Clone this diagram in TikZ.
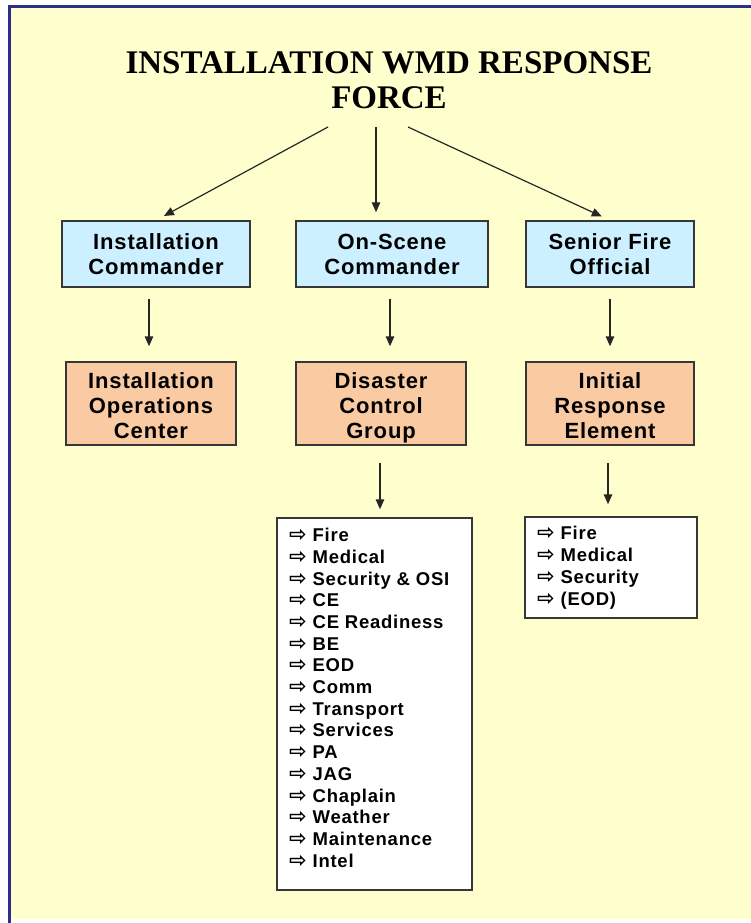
\documentclass[tikz,border=0pt]{standalone}
\usepackage{fontspec}
\usetikzlibrary{arrows.meta}
\newfontfamily\titlefont{Liberation Serif}
\newfontfamily\boxfont[LetterSpace=4]{Liberation Sans}
\newfontfamily\symfont{DejaVu Sans}
\definecolor{bgyellow}{RGB}{255,255,206}
\definecolor{frameblue}{RGB}{45,45,140}
\definecolor{boxblue}{RGB}{204,240,255}
\definecolor{boxorange}{RGB}{250,202,162}
\definecolor{boxline}{RGB}{55,55,55}
\newcommand{\itemarrow}{{\symfont\fontsize{21}{21}\selectfont ⇨}}
\newcommand{\topstrut}{\rule{0pt}{26pt}}
\newcommand{\lastline}[1]{\smash{#1}\rule[-7pt]{0pt}{0pt}}
\tikzset{
  box/.style={draw=boxline, line width=1.5pt, inner sep=0pt, align=center,
    font=\boxfont\bfseries\fontsize{22}{25}\selectfont},
  bluebox/.style={box, fill=boxblue, minimum height=66pt},
  orangebox/.style={box, fill=boxorange, minimum height=83pt},
  listbox/.style={draw=boxline, line width=1.5pt, fill=white, inner sep=0pt},
  item/.style={anchor=base west, inner sep=0pt,
    font=\boxfont\bfseries\fontsize{18.5}{21}\selectfont},
  titletext/.style={anchor=base, inner sep=0pt,
    font=\titlefont\bfseries\fontsize{33}{35}\selectfont},
  arr/.style={draw=black!85, line width=1.5pt, -{Triangle[length=10pt,width=8.5pt]}},
  tarr/.style={draw=black!85, line width=1.2pt, -{Triangle[length=10pt,width=8.5pt]}}
}
\begin{document}
\begin{tikzpicture}[x=1pt,y=-1pt]
\useasboundingbox (0,0) rectangle (751,923);
\fill[white] (0,0) rectangle (751,923);
\fill[bgyellow] (9,6) rectangle (751,919);
\draw[frameblue, line width=3pt] (9.2,923) -- (9.2,6.5) -- (751,6.5);

% title
\node[titletext] (t1) at (389,74) {INSTALLATION WMD RESPONSE};
\node[titletext] (t2) at (389,109) {FORCE};

% first row
\node[bluebox, minimum width=188pt] (ic) at (156,254) {Installation\\Commander};
\node[bluebox, minimum width=192pt] (osc) at (392,254) {On-Scene\\Commander};
\node[bluebox, minimum width=168pt] (sfo) at (610,254) {Senior Fire\\Official};

% second row
\node[orangebox, minimum width=170pt] (ioc) at (151,403.5) {\topstrut Installation\\Operations\\\lastline{Center}};
\node[orangebox, minimum width=170pt] (dcg) at (381,403.5) {\topstrut Disaster\\Control\\\lastline{Group}};
\node[orangebox, minimum width=168pt] (ire) at (610,403.5) {\topstrut Initial\\Response\\\lastline{Element}};

% list boxes
\node[listbox, minimum width=195pt, minimum height=372pt] (dl) at (374.5,704) {};
\node[listbox, minimum width=172pt, minimum height=101pt] (il) at (611,567.5) {};

\foreach \t [count=\i] in {Fire, Medical, Security \& OSI, CE, CE Readiness, BE, EOD, Comm,
  Transport, Services, PA, JAG, Chaplain, Weather, Maintenance, Intel}
  \node[item] (dli\i) at (289,{541.6+(\i-1)*21.7}) {\itemarrow\ \t};

\foreach \t [count=\i] in {Fire, Medical, Security, (EOD)}
  \node[item] (ili\i) at (537,{539.6+(\i-1)*22}) {\itemarrow\ \t};

% title arrows
\coordinate (s1) at (328,127);
\coordinate (s2) at (376,127);
\coordinate (s3) at (408,127);
\draw[tarr, shorten >=9pt] (s1) -- (ic.north);
\draw[tarr, shorten >=8pt] (s2) -- (s2 |- osc.north);
\draw[tarr, shorten >=9pt] (s3) -- (sfo.north);

% down arrows
\draw[arr, shorten <=11pt, shorten >=15pt] ([xshift=-7pt]ic.south) -- ([xshift=-7pt]ic.south |- ioc.north);
\draw[arr, shorten <=11pt, shorten >=15pt] ([xshift=-2pt]osc.south) -- ([xshift=-2pt]osc.south |- dcg.north);
\draw[arr, shorten <=11pt, shorten >=15pt] (sfo.south) -- (sfo.south |- ire.north);
\draw[arr, shorten <=17pt, shorten >=8pt] ([xshift=-1pt]dcg.south) -- ([xshift=-1pt]dcg.south |- dl.north);
\draw[arr, shorten <=17pt, shorten >=12pt] ([xshift=-2pt]ire.south) -- ([xshift=-2pt]ire.south |- il.north);
\end{tikzpicture}
\end{document}
